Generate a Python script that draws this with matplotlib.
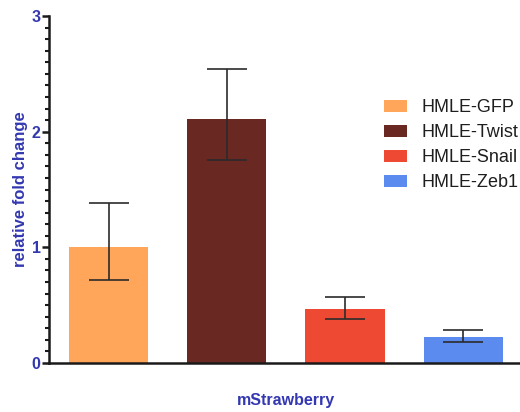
import matplotlib
matplotlib.use("Agg")
import matplotlib.pyplot as plt
from matplotlib.ticker import MultipleLocator
from matplotlib.patches import Patch

plt.rcParams['font.family'] = ['Liberation Sans', 'DejaVu Sans']

groups = ["HMLE-GFP", "HMLE-Twist", "HMLE-Snail", "HMLE-Zeb1"]
values = [1.0, 2.11, 0.465, 0.222]
err_upper = [1.387, 2.543, 0.568, 0.283]
err_lower = [0.715, 1.756, 0.380, 0.179]
colors = ["#FFA65A", "#6A2822", "#EE4A33", "#5B8BEE"]
xlabel = "mStrawberry"
ylabel = "relative fold change"

blue = "#3338B0"

fig = plt.figure(figsize=(5.2, 4.12), dpi=100)
ax = fig.add_axes([49 / 520, 1 - 363 / 412, 1 - 49 / 520, (363 - 16) / 412])

x = list(range(len(groups)))
yerr = [[v - lo for v, lo in zip(values, err_lower)],
        [hi - v for v, hi in zip(values, err_upper)]]
ax.bar(x, values, width=0.67, color=colors, zorder=2)
ax.errorbar(x, values, yerr=yerr, fmt="none", ecolor="#2b2b2b",
            elinewidth=1.2, capsize=14.5, capthick=1.2, zorder=3)

ax.set_xlim(-0.504, 3.48)
ax.set_ylim(0, 3)
ax.yaxis.set_major_locator(MultipleLocator(1))
ax.yaxis.set_minor_locator(MultipleLocator(0.1))
ax.set_xticks([])
for s in ("top", "right"):
    ax.spines[s].set_visible(False)
for s in ("left", "bottom"):
    ax.spines[s].set_linewidth(1.8)
    ax.spines[s].set_color("#1a1a1a")
ax.tick_params(axis="y", which="major", length=5, width=1.8, color="#1a1a1a",
               labelsize=11.5, labelcolor=blue, pad=1)
ax.tick_params(axis="y", which="minor", length=3, width=1.5, color="#1a1a1a")
for lab in ax.get_yticklabels():
    lab.set_fontweight("bold")

ax.set_ylabel(ylabel, fontsize=12, fontweight="bold", color=blue, labelpad=3)
fig.text(286 / 520, 1 - 401 / 412, xlabel, ha="center", va="center",
         fontsize=11.5, fontweight="bold", color=blue)

handles = [Patch(facecolor=c, edgecolor="none") for c in colors]
ax.legend(handles, groups, loc="upper left", bbox_to_anchor=(0.711, 0.761),
          frameon=False, fontsize=13, handlelength=1.27, handleheight=0.66,
          labelspacing=0.45, handletextpad=0.8, borderaxespad=0, borderpad=0,
          labelcolor="#1e1e1e")

fig.savefig("out.png", dpi=100)
